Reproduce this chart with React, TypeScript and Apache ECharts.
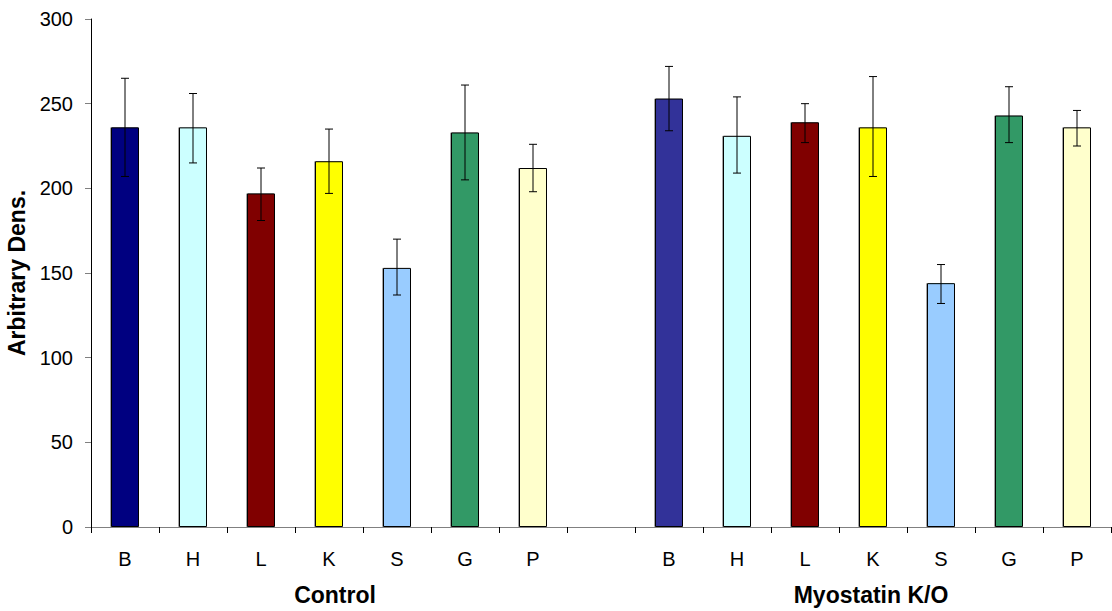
import React, { useEffect, useRef } from "react";
import * as echarts from "echarts";

const categories = ["B", "H", "L", "K", "S", "G", "P", "", "B", "H", "L", "K", "S", "G", "P"];
const controlValues = [236, 236, 197, 216, 153, 233, 212];
const controlLow = [207, 215, 181, 197, 137, 205, 198];
const controlHigh = [265, 256, 212, 235, 170, 261, 226];
const koValues = [253, 231, 239, 236, 144, 243, 236];
const koLow = [234, 209, 227, 207, 132, 227, 225];
const koHigh = [272, 254, 250, 266, 155, 260, 246];
const controlColors = ["#000080", "#CCFFFF", "#800000", "#FFFF00", "#99CCFF", "#339966", "#FFFFCC"];
const koColors = ["#333399", "#CCFFFF", "#800000", "#FFFF00", "#99CCFF", "#339966", "#FFFFCC"];
const groupLabels = ["Control", "Myostatin K/O"];
const yMin = 0;
const yMax = 300;
const yInterval = 50;

const FONT = "'Liberation Sans', Arial, sans-serif";

export default function App() {
  const ref = useRef<HTMLDivElement>(null);
  useEffect(() => {
    if (!ref.current) return;
    const chart = echarts.init(ref.current, undefined, { renderer: "svg" });

    const barData: any[] = [];
    const errData: any[] = [];
    controlValues.forEach((v, i) => {
      barData.push({ value: v, itemStyle: { color: controlColors[i] } });
      errData.push([i, controlLow[i], controlHigh[i]]);
    });
    barData.push(null);
    koValues.forEach((v, i) => {
      barData.push({ value: v, itemStyle: { color: koColors[i] } });
      errData.push([i + controlValues.length + 1, koLow[i], koHigh[i]]);
    });

    chart.setOption({
      animation: false,
      backgroundColor: "#ffffff",
      grid: { left: 91, right: 1, top: 19, bottom: 84, containLabel: false, outerBoundsMode: "none" },
      xAxis: {
        type: "category",
        data: categories,
        axisLine: { lineStyle: { color: "#808080", width: 1 } },
        axisTick: { show: true, alignWithLabel: false, length: 6, inside: false, lineStyle: { color: "#000" } },
        axisLabel: { color: "#000", fontFamily: FONT, fontSize: 20, margin: 22, interval: 0 },
        splitLine: { show: false },
      },
      yAxis: {
        type: "value",
        min: yMin,
        max: yMax,
        interval: yInterval,
        name: "Arbitrary Dens.",
        nameLocation: "middle",
        nameRotate: 90,
        nameGap: 58,
        nameTextStyle: { color: "#000", fontFamily: FONT, fontSize: 23, fontWeight: "bold" },
        axisLine: { show: true, lineStyle: { color: "#000", width: 1 } },
        axisTick: { show: true, length: 6, lineStyle: { color: "#808080" } },
        axisLabel: { color: "#000", fontFamily: FONT, fontSize: 20, margin: 18 },
        splitLine: { show: false },
      },
      series: [
        {
          type: "bar",
          data: barData,
          barWidth: 28,
          itemStyle: { borderColor: "#000", borderWidth: 1, shadowColor: "rgba(0,0,0,0.35)", shadowOffsetX: -1, shadowOffsetY: 0, shadowBlur: 1 },
        },
        {
          type: "custom",
          data: errData,
          z: 10,
          renderItem: (params: any, api: any) => {
            const x = api.value(0);
            const lo = api.coord([x, api.value(1)]);
            const hi = api.coord([x, api.value(2)]);
            const cap = 4;
            const style = { stroke: "#000", lineWidth: 1 };
            return {
              type: "group",
              children: [
                { type: "line", shape: { x1: hi[0], y1: hi[1], x2: lo[0], y2: lo[1] }, style },
                { type: "line", shape: { x1: hi[0] - cap, y1: hi[1], x2: hi[0] + cap, y2: hi[1] }, style },
                { type: "line", shape: { x1: lo[0] - cap, y1: lo[1], x2: lo[0] + cap, y2: lo[1] }, style },
              ],
            };
          },
        },
      ],
      graphic: [
        {
          type: "text",
          x: 335,
          y: 595,
          style: { text: groupLabels[0], fontFamily: FONT, fontSize: 23, fontWeight: "bold", fill: "#000", align: "center", verticalAlign: "middle" },
        },
        {
          type: "text",
          x: 871,
          y: 595,
          style: { text: groupLabels[1], fontFamily: FONT, fontSize: 23, fontWeight: "bold", fill: "#000", align: "center", verticalAlign: "middle" },
        },
      ],
    });
    return () => chart.dispose();
  }, []);
  return <div ref={ref} style={{ position: "fixed", left: 0, top: 0, width: 1112, height: 611 }} />;
}
